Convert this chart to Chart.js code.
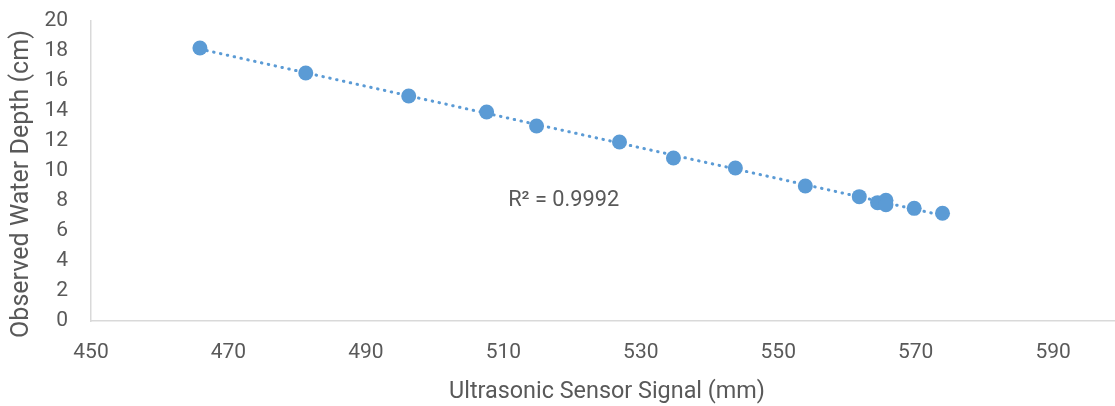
<!DOCTYPE html>
<html>
<head>
<meta charset="utf-8">
<script src="https://cdn.jsdelivr.net/npm/chart.js@4/dist/chart.umd.min.js"></script>
<style>
  html, body { margin: 0; padding: 0; background: #fff; }
  #wrap { width: 1115px; height: 406px; position: relative; }
</style>
</head>
<body>
<div id="wrap"><canvas id="c"></canvas></div>
<script>
// Data
const sensorSignal = [465.85, 481.25, 496.23, 507.57, 514.83, 526.9, 534.75, 543.76, 553.94, 561.79, 564.45, 565.67, 565.67, 569.78, 573.9];
const waterDepth   = [18.2, 16.53, 15.0, 13.93, 13.0, 11.93, 10.87, 10.2, 9.0, 8.29, 7.89, 8.05, 7.75, 7.51, 7.18];
const xTickLabels = [450, 470, 490, 510, 530, 550, 570, 590];
const yTickLabels = [0, 2, 4, 6, 8, 10, 12, 14, 16, 18, 20];
const xTitle = 'Ultrasonic Sensor Signal (mm)';
const yTitle = 'Observed Water Depth (cm)';
const r2Label = 'R² = 0.9992';
const r2Anchor = [510.7, 7.67];

// linear trendline (least squares) over the data
const n = sensorSignal.length;
const mx = sensorSignal.reduce((a, b) => a + b, 0) / n;
const my = waterDepth.reduce((a, b) => a + b, 0) / n;
let sxy = 0, sxx = 0;
for (let i = 0; i < n; i++) { sxy += (sensorSignal[i] - mx) * (waterDepth[i] - my); sxx += (sensorSignal[i] - mx) ** 2; }
const slope = sxy / sxx, intercept = my - slope * mx;
const xMin = Math.min(...sensorSignal), xMax = Math.max(...sensorSignal);
const trend = [{x: xMin, y: intercept + slope * xMin}, {x: xMax, y: intercept + slope * xMax}];

const points = sensorSignal.map((x, i) => ({x, y: waterDepth[i]}));
const FONT = 'Roboto';
const TXT = '#595959';
const AXIS = '#D9D9D9';

// size a font so the text spans the wanted width
function fitFont(ctx, text, width) {
  ctx.font = `20px ${FONT}`;
  const w = ctx.measureText(text).width;
  const size = 20 * width / w;
  ctx.font = `${size}px ${FONT}`;
  return size;
}

const textPlugin = {
  id: 'texts',
  afterDatasetsDraw(chart) {
    const {ctx, scales: {x, y}} = chart;
    ctx.save();
    ctx.fillStyle = TXT;
    ctx.textBaseline = 'alphabetic';
    // R² label
    fitFont(ctx, r2Label, 111);
    ctx.textAlign = 'left';
    ctx.fillText(r2Label, x.getPixelForValue(r2Anchor[0]), y.getPixelForValue(r2Anchor[1]));
    // x axis title
    fitFont(ctx, xTitle, 316);
    ctx.textAlign = 'center';
    ctx.fillText(xTitle, 607, 398);
    // y axis title
    fitFont(ctx, yTitle, 308);
    ctx.translate(28, 184);
    ctx.rotate(-Math.PI / 2);
    ctx.fillText(yTitle, 0, 0);
    ctx.restore();
  }
};

new Chart(document.getElementById('c'), {
  type: 'scatter',
  data: {
    datasets: [
      { data: points, backgroundColor: '#5B9BD5', borderColor: '#5B9BD5', pointRadius: 7.5, pointHoverRadius: 7.5, borderWidth: 0 },
      { type: 'line', data: trend, showLine: true, pointRadius: 0, borderColor: '#5B9BD5', borderWidth: 3,
        borderDash: [0.5, 6.5], borderCapStyle: 'round', fill: false }
    ]
  },
  options: {
    responsive: true,
    maintainAspectRatio: false,
    animation: false,
    layout: { autoPadding: false, padding: { top: 21, right: 0, left: 0, bottom: 0 } },
    plugins: { legend: { display: false }, tooltip: { enabled: false } },
    scales: {
      x: {
        type: 'linear', min: 450, max: 599,
        afterBuildTicks: s => { s.ticks = xTickLabels.map(v => ({value: v})); },
        afterFit: s => { s.height = 85; s.paddingLeft = 0; s.paddingRight = 0; },
        grid: { display: false, drawTicks: false },
        border: { display: true, color: AXIS, width: 1.5 },
        ticks: { color: TXT, font: { family: FONT, size: 21 }, padding: 19, maxRotation: 0 },
        title: { display: false }
      },
      y: {
        type: 'linear', min: 0, max: 20,
        afterBuildTicks: s => { s.ticks = yTickLabels.map(v => ({value: v})); },
        afterFit: s => { s.width = 91; s.paddingTop = 0; s.paddingBottom = 0; },
        grid: { display: false, drawTicks: false },
        border: { display: true, color: AXIS, width: 1.5 },
        ticks: { color: TXT, font: { family: FONT, size: 21 }, padding: 23 },
        title: { display: false }
      }
    }
  },
  plugins: [textPlugin]
});
</script>
</body>
</html>
